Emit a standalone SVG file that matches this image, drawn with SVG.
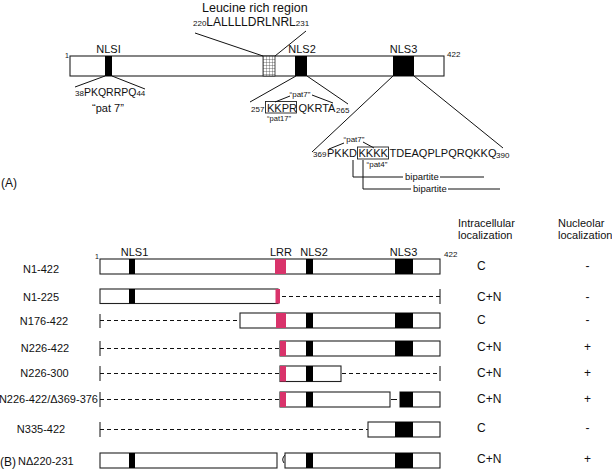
<svg xmlns="http://www.w3.org/2000/svg" width="612" height="470" viewBox="0 0 612 470">
<defs>
<pattern id="grid" x="263" y="56" width="3" height="3" patternUnits="userSpaceOnUse">
<rect width="3" height="3" fill="#fff"/>
<path d="M0,0 H3 M0,0 V3" stroke="#333" stroke-width="0.7"/>
</pattern>
</defs>
<style>
text{font-family:"Liberation Sans",Arial,sans-serif;fill:#111}
.bar{fill:#fff;stroke:#222;stroke-width:1.1}
.blk{fill:#000}
.lrr{fill:#d9336b}
.ln{stroke:#111;stroke-width:1;fill:none}
.dash{stroke:#111;stroke-width:1;stroke-dasharray:4 3;fill:none}
.s7{font-size:7px}
.s8{font-size:8px}
.s9{font-size:9.5px}
.s11{font-size:11px}
.s12{font-size:12px}
.m{text-anchor:middle}
</style>

<!-- Part A -->
<g id="A-label"><text x="1" y="187" class="s12">(A)</text></g>
<g id="A-bar">
<rect x="70" y="56" width="374" height="20" class="bar"/>
<text x="65" y="58" class="s7">1</text>
<text x="447" y="57" class="s8">422</text>
</g>
<g id="A-NLS1">
<rect x="105" y="56" width="7" height="20" class="blk"/>
<text x="108.5" y="53" class="s11 m">NLSI</text>
</g>
<g id="A-LRR">
<rect x="263" y="56" width="12" height="20" fill="url(#grid)" stroke="#222" stroke-width="0.8"/>
</g>
<g id="A-NLS2">
<rect x="295" y="56" width="12" height="20" class="blk"/>
<text x="302" y="53" class="s11 m">NLS2</text>
</g>
<g id="A-NLS3">
<rect x="393" y="56" width="21" height="20" class="blk"/>
<text x="403.5" y="53" class="s11 m">NLS3</text>
</g>

<g id="A-leucine-text">
<text x="202" y="11.5" style="font-size:12.5px">Leucine rich region</text>
<text x="193" y="26"><tspan class="s8">220</tspan><tspan class="s12">LALLLLDRLNRL</tspan><tspan class="s8">231</tspan></text>
</g>
<g id="A-NLS1-seq">
<text x="75" y="96"><tspan class="s8">38</tspan><tspan style="font-size:10.5px">PKQRRPQ</tspan><tspan class="s8">44</tspan></text>
<text x="108" y="112" class="s11 m">“pat 7”</text>
</g>
<g id="A-NLS2-seq">
<text x="251" y="112" class="s8">257</text>
<rect x="265.5" y="101.5" width="31" height="11.5" fill="none" stroke="#222" stroke-width="0.9"/>
<text x="267" y="111.5" class="s11">KKPR</text>
<text x="298.5" y="111.5" class="s11">QKRTA</text>
<text x="336" y="113" class="s8">265</text>
<text x="300" y="97" class="s8 m">“pat7”</text>
<text x="279" y="121" style="font-size:7.5px" class="m">“pat17”</text>
</g>
<g id="A-NLS3-seq">
<text x="313" y="157" class="s8">369</text>
<text x="327" y="157" class="s11">PKKD</text>
<rect x="357.5" y="147" width="31" height="12" fill="none" stroke="#222" stroke-width="0.9"/>
<text x="358.5" y="157" class="s11">KKKK</text>
<text x="389.5" y="157" class="s11">TDEAQPLPQRQKKQ</text>
<text x="496" y="158" class="s8">390</text>
<text x="354" y="142" class="s8 m">“pat7”</text>
<text x="377" y="167" class="s8 m">“pat4”</text>
<text x="405" y="180" class="s9">bipartite</text>
<text x="413" y="192" class="s9">bipartite</text>
</g>

<g id="connectors">
<path class="ln" d="M195,33 L263,56 M306,31 L275,56"/>
<path class="ln" d="M105,76 L75,87 M112,76 L145,89"/>
<path class="ln" d="M296,76 L250,102 M307,76 L348,104"/>
<path class="ln" d="M290,96 L275,102 M312,95 L333,103"/>
<path class="ln" d="M393,76 L312,152 M414,76 L503,148"/>
<path class="ln" d="M344,143 L329,149 M363,142 L374,148"/>
<path class="ln" d="M353,160 V177 H403 M440,177 H484"/>
<path class="ln" d="M363,160 V189 H411 M448,189 H500" stroke="#4a4a7a"/>
</g>

<!-- Part B header -->
<g id="B-header">
<text x="458" y="227" class="s11">Intracellular</text>
<text x="458" y="239" class="s11">localization</text>
<text x="558" y="227" class="s11">Nucleolar</text>
<text x="558" y="239" class="s11">localization</text>
<text x="95" y="259" class="s7">1</text>
<text x="444" y="257" class="s8">422</text>
<text x="134.5" y="255.5" class="s11 m">NLS1</text>
<text x="281" y="255.5" class="s11 m">LRR</text>
<text x="314" y="255.5" class="s11 m">NLS2</text>
<text x="403.5" y="255.5" class="s11 m">NLS3</text>
</g>

<g id="row-N1-422">
<text x="41" y="273" class="s11 m">N1-422</text>
<rect x="100" y="259" width="340" height="15" class="bar"/>
<rect x="129" y="259" width="6" height="15" class="blk"/>
<rect x="275" y="259" width="11" height="15" class="lrr"/>
<rect x="306" y="259" width="7" height="15" class="blk"/>
<rect x="395" y="259" width="18" height="15" class="blk"/>
<text x="477" y="269.5" class="s12">C</text>
<text x="587.5" y="269.5" class="s12 m">-</text>
</g>

<g id="row-N1-225">
<text x="41" y="300.5" class="s11 m">N1-225</text>
<rect x="100" y="289" width="178" height="14.5" class="bar"/>
<rect x="129" y="289" width="6" height="14.5" class="blk"/>
<rect x="275.5" y="289" width="4.5" height="14.5" class="lrr"/>
<path class="dash" d="M282,296.5 H440"/>
<path class="ln" d="M440,289 V304"/>
<text x="477" y="300.5" class="s12">C+N</text>
<text x="587.5" y="300.5" class="s12 m">-</text>
</g>

<g id="row-N176-422">
<text x="44" y="325" class="s11 m">N176-422</text>
<path class="ln" d="M100,314 V328"/>
<path class="dash" d="M100,320.5 H238"/>
<rect x="240" y="313" width="200" height="15" class="bar"/>
<rect x="276" y="313" width="10" height="15" class="lrr"/>
<rect x="306" y="313" width="7" height="15" class="blk"/>
<rect x="395" y="313" width="18" height="15" class="blk"/>
<text x="477" y="323.5" class="s12">C</text>
<text x="587.5" y="323.5" class="s12 m">-</text>
</g>

<g id="row-N226-422">
<text x="45" y="351.5" class="s11 m">N226-422</text>
<path class="ln" d="M100,341 V356"/>
<path class="dash" d="M100,348.5 H280"/>
<rect x="280" y="341" width="160" height="15" class="bar"/>
<rect x="280" y="341" width="6" height="15" class="lrr"/>
<rect x="306" y="341" width="7" height="15" class="blk"/>
<rect x="395" y="341" width="18" height="15" class="blk"/>
<text x="477" y="350.5" class="s12">C+N</text>
<text x="587.5" y="350.5" class="s12 m">+</text>
</g>

<g id="row-N226-300">
<text x="44.5" y="377" class="s11 m">N226-300</text>
<path class="ln" d="M100,366 V381"/>
<path class="dash" d="M100,373.5 H280"/>
<rect x="280" y="366" width="61" height="15.5" class="bar"/>
<rect x="280" y="366" width="6" height="15.5" class="lrr"/>
<rect x="306" y="366" width="7" height="15.5" class="blk"/>
<path class="dash" d="M342,373.5 H440"/>
<path class="ln" d="M440,366 V381"/>
<text x="477" y="376.5" class="s12">C+N</text>
<text x="587.5" y="376.5" class="s12 m">+</text>
</g>

<g id="row-N226-422-d369-376">
<text x="98" y="403" class="s11" text-anchor="end">N226-422/Δ369-376</text>
<path class="ln" d="M100,392 V407"/>
<path class="dash" d="M100,399.5 H280"/>
<rect x="280" y="392" width="110" height="15" class="bar"/>
<rect x="280" y="392" width="6" height="15" class="lrr"/>
<rect x="306" y="392" width="7" height="15" class="blk"/>
<path class="ln" d="M391,399.5 H397"/>
<rect x="400" y="392" width="40" height="15" class="bar"/>
<rect x="400" y="392" width="13" height="15" class="blk"/>
<text x="477" y="402.5" class="s12">C+N</text>
<text x="587.5" y="402.5" class="s12 m">+</text>
</g>

<g id="row-N335-422">
<text x="41" y="433" class="s11 m">N335-422</text>
<path class="ln" d="M100,422 V437"/>
<path class="dash" d="M100,429.5 H368"/>
<rect x="368" y="422" width="72" height="15" class="bar"/>
<rect x="395" y="422" width="18" height="15" class="blk"/>
<text x="477" y="431.5" class="s12">C</text>
<text x="587.5" y="431.5" class="s12 m">-</text>
</g>

<g id="row-NΔ220-231">
<text x="0" y="466" class="s12">(B)</text>
<text x="18" y="465" class="s11">NΔ220-231</text>
<rect x="100" y="453" width="177" height="15" class="bar"/>
<rect x="129" y="453" width="6" height="15" class="blk"/>
<path class="ln" d="M285,455 Q281,459 284,463"/>
<rect x="285" y="453" width="155" height="15" class="bar"/>
<rect x="306" y="453" width="7" height="15" class="blk"/>
<rect x="395" y="453" width="18" height="15" class="blk"/>
<text x="477" y="463" class="s12">C+N</text>
<text x="587.5" y="463" class="s12 m">+</text>
</g>
</svg>
